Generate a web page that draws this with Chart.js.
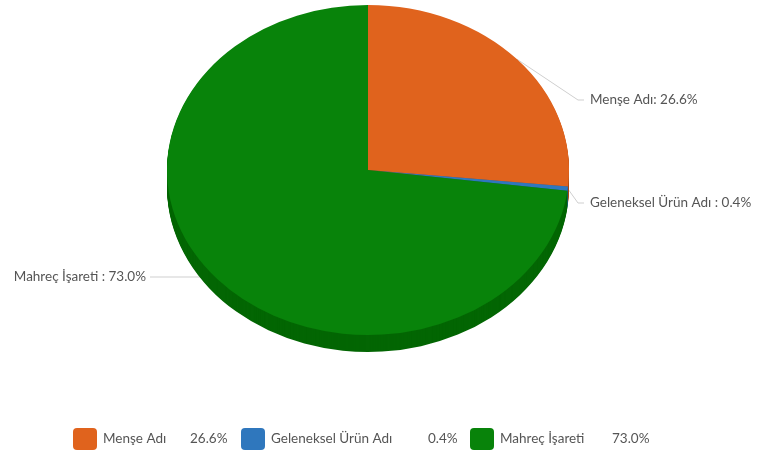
<!DOCTYPE html>
<html>
<head>
<meta charset="utf-8">
<script src="https://cdn.jsdelivr.net/npm/chart.js@4/dist/chart.umd.min.js"></script>
<style>
html,body{margin:0;padding:0;background:#fff;}
#wrap{width:760px;height:452px;position:relative;}
</style>
</head>
<body>
<div id="wrap"><canvas id="pieChart"></canvas></div>
<script>

/* data */

const categories = ["Menşe Adı", "Geleneksel Ürün Adı", "Mahreç İşareti"];
const shares = [26.6, 0.4, 73.0];
const labelSeparators = [": ", " : ", " : "];

const topColors = ["#e0631d", "#2f77bd", "#08830a"];
const sideColors = ["#a9480f", "#1f5891", "#036603"];

const FONT = "13.5px Lato, 'Open Sans', sans-serif";
const TEXT = "#555";


/* ellipse + depth, labels, legend */

function arcPath(ctx, a) {
ctx.beginPath();
ctx.moveTo(a.x, a.y);
ctx.arc(a.x, a.y, a.outerRadius, a.startAngle, a.endAngle);
ctx.closePath();
}

function tilt(ctx, a, o) {
ctx.translate(o.cx, o.cy);
ctx.scale(o.rx / a.outerRadius, o.ry / a.outerRadius);
ctx.translate(-a.x, -a.y);
}

const pie3d = {
id: "pie3d",

beforeDatasetsDraw(chart, args, o) {
const ctx = chart.ctx;
const arcs = chart.getDatasetMeta(0).data;

/* leader lines (pie covers their inner part) */
ctx.save();
ctx.strokeStyle = "#cfcfcf";
ctx.lineWidth = 1;
arcs.forEach((a, i) => {
const mid = (a.startAngle + a.endAngle) / 2;
const px = o.cx + o.rx * Math.cos(mid);
const py = o.cy + o.ry * Math.sin(mid);
const p = o.labels[i];
ctx.beginPath();
ctx.moveTo(px, py);
ctx.lineTo(p.ex, p.y);
ctx.lineTo(p.x, p.y);
ctx.stroke();
});
ctx.restore();

/* side of the pie */
for (let d = o.depth; d >= 1; d--) {
arcs.forEach((a, i) => {
ctx.save();
ctx.translate(0, d);
tilt(ctx, a, o);
arcPath(ctx, a);
ctx.fillStyle = sideColors[i];
ctx.fill();
ctx.restore();
});
}

ctx.save();
tilt(ctx, arcs[0], o);
},

afterDatasetsDraw(chart, args, o) {
const ctx = chart.ctx;
ctx.restore();

ctx.save();
ctx.font = FONT;
ctx.fillStyle = TEXT;
ctx.textBaseline = "middle";
categories.forEach((c, i) => {
const p = o.labels[i];
const txt = c + labelSeparators[i] + shares[i].toFixed(1) + "%";
if (p.side === "left") {
ctx.textAlign = "right";
ctx.fillText(txt, p.x - 4, p.y);
} else {
ctx.textAlign = "left";
ctx.fillText(txt, p.x + 6, p.y);
}
});
ctx.restore();
},

afterDraw(chart, args, o) {
const ctx = chart.ctx;
const L = o.legend;
ctx.save();
ctx.font = FONT;
ctx.textBaseline = "middle";
ctx.textAlign = "left";
categories.forEach((c, i) => {
ctx.fillStyle = topColors[i];
ctx.beginPath();
ctx.roundRect(L.box[i], L.y, 24, 22, 4);
ctx.fill();
ctx.fillStyle = TEXT;
ctx.fillText(c, L.box[i] + 30, L.y + 11);
ctx.fillText(shares[i].toFixed(1) + "%", L.val[i], L.y + 11);
});
ctx.restore();
}
};


/* chart */

new Chart(document.getElementById("pieChart"), {

type: "pie",

data: {
labels: categories,
datasets: [{
data: shares,
backgroundColor: topColors,
borderWidth: 0,
hoverOffset: 0,
clip: false
}]
},

options: {
responsive: true,
maintainAspectRatio: false,
animation: false,
events: [],
layout: { padding: { left: 167, right: 191, top: 25, bottom: 25 } },
plugins: {
legend: { display: false },
tooltip: { enabled: false },
pie3d: {
cx: 368, cy: 170, rx: 201, ry: 165, depth: 17,
labels: [
{ side: "right", ex: 578, x: 584, y: 100 },
{ side: "right", ex: 578, x: 584, y: 203 },
{ side: "left", ex: 200, x: 150, y: 277 }
],
legend: { y: 428, box: [73, 241, 470], val: [190, 428, 612] }
}
}
},

plugins: [pie3d]

});

</script>
</body>
</html>
